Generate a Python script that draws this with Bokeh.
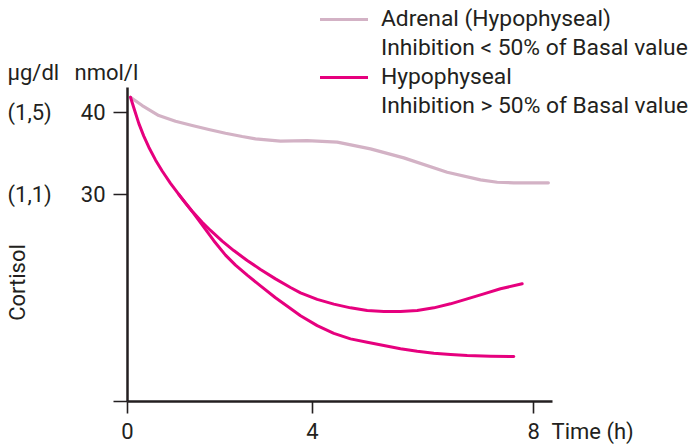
from bokeh.plotting import figure
from bokeh.models import Range1d, FixedTicker, Label, Legend, LegendItem
from bokeh.embed import file_html
from bokeh.resources import INLINE
import math

# ---- data ----
adrenal_t = [0.065, 0.318, 0.677, 1.038, 1.399, 1.758, 2.119, 2.480, 2.768, 3.308, 3.885, 4.534,
             5.254, 5.974, 6.912, 7.632, 7.994, 8.352, 9.10]
adrenal_c = [41.84, 40.83, 39.61, 38.92, 38.39, 37.90, 37.45, 37.05, 36.77, 36.48, 36.56, 36.36,
             35.55, 34.45, 32.70, 31.77, 31.48, 31.41, 31.41]

hypo_a_t = [0.065, 0.136, 0.244, 0.352, 0.461, 0.605, 0.750, 0.930, 1.109, 1.254, 1.399, 1.615,
            1.795, 2.048, 2.298, 2.588, 2.876, 3.200, 3.524, 3.741, 4.102, 4.461, 4.822, 5.183,
            5.542, 5.903, 6.264, 6.623, 6.984, 7.345, 7.704, 8.065, 8.534]
hypo_a_c = [41.84, 40.55, 38.65, 37.10, 35.75, 34.20, 32.85, 31.35, 30.00, 28.95, 27.95, 26.60,
            25.60, 24.30, 23.15, 21.95, 20.85, 19.70, 18.65, 18.00, 17.20, 16.62, 16.17, 15.84,
            15.72, 15.72, 15.84, 16.17, 16.66, 17.27, 17.88, 18.49, 19.10]

hypo_b_t = [1.109, 1.183, 1.434, 1.650, 1.866, 2.119, 2.335, 2.588, 2.876, 3.200, 3.524, 3.741,
            4.102, 4.461, 4.822, 5.183, 5.542, 5.903, 6.264, 6.623, 6.984, 7.345, 7.849, 8.353]
hypo_b_c = [30.00, 29.45, 27.65, 26.00, 24.35, 22.60, 21.38, 20.15, 18.85, 17.40, 16.10, 15.20,
            14.00, 13.05, 12.39, 11.98, 11.58, 11.18, 10.88, 10.64, 10.48, 10.36, 10.27, 10.24]

x_ticks = [0, 4, 8.78]
x_tick_labels = ["0", "4", "8"]
x_axis_end = 9.19
y_bottom = 4.75
y_axis_top = 43.0
y_ticks = [y_bottom, 30, 40]
y_tick_labels = ["", "30", "40"]
ug_labels = ["(1,5)", "(1,1)"]
ug_values = [40, 30]

legend_texts = ["Adrenal (Hypophyseal)", "Inhibition < 50% of Basal value",
                "Hypophyseal", "Inhibition > 50% of Basal value"]

# ---- style ----
DARK = "#231F20"
LIGHT = "#D3B2C5"
PINK = "#E6007E"
FONT = "Roboto"
FS = "22px"

p = figure(width=693, height=446, output_backend="svg", toolbar_location=None,
           title_location=None,
           x_range=Range1d(-2.746, 12.238), y_range=Range1d(-0.73, 53.63),
           min_border_left=0, min_border_right=0, min_border_top=0, min_border_bottom=0)
p.outline_line_color = None
p.xgrid.visible = False
p.ygrid.visible = False
p.background_fill_color = "white"
p.border_fill_color = "white"

r_light = p.line(adrenal_t, adrenal_c, line_color=LIGHT, line_width=3.2, line_join="round", line_cap="round")
r_a = p.line(hypo_a_t, hypo_a_c, line_color=PINK, line_width=3, line_join="round", line_cap="round")
r_b = p.line(hypo_b_t, hypo_b_c, line_color=PINK, line_width=3, line_join="round", line_cap="round")
r_blank1 = p.line([], [], line_alpha=0)
r_blank2 = p.line([], [], line_alpha=0)

for ax in (p.xaxis[0], p.yaxis[0]):
    ax.axis_line_color = DARK
    ax.axis_line_width = 2.5
    ax.major_tick_line_color = DARK
    ax.major_tick_line_width = 1.6
    ax.minor_tick_line_color = None
    ax.major_tick_in = 0
    ax.major_label_text_font = FONT
    ax.major_label_text_font_size = FS
    ax.major_label_text_color = DARK

p.xaxis[0].ticker = FixedTicker(ticks=x_ticks)
p.xaxis[0].major_label_overrides = {t: s for t, s in zip(x_ticks, x_tick_labels)}
p.xaxis[0].major_tick_out = 12
p.xaxis[0].major_label_standoff = 9
p.xaxis[0].bounds = (0, x_axis_end)
p.xaxis[0].fixed_location = y_bottom

p.yaxis[0].ticker = FixedTicker(ticks=y_ticks)
p.yaxis[0].major_label_overrides = {t: s for t, s in zip(y_ticks, y_tick_labels)}
p.yaxis[0].major_tick_out = 14
p.yaxis[0].major_label_standoff = 8
p.yaxis[0].bounds = (y_bottom, y_axis_top)
p.yaxis[0].fixed_location = 0

def lab(x, y, text, align="left", angle=0.0):
    p.add_layout(Label(x=x, y=y, text=text, text_font=FONT, text_font_size=FS,
                       text_color=DARK, text_align=align, text_baseline="middle",
                       angle=angle))

lab(-2.595, 44.85, "\u00b5g/dl")
lab(-1.146, 44.85, "nmol/l")
for t, v in zip(ug_labels, ug_values):
    lab(-2.595, v, t)
lab(-2.378, 19.26, "Cortisol", align="center", angle=math.pi / 2)
lab(9.168, 1.10, "Time (h)")

legend = Legend(items=[
    LegendItem(label=legend_texts[0], renderers=[r_light]),
    LegendItem(label=legend_texts[1], renderers=[r_blank1]),
    LegendItem(label=legend_texts[2], renderers=[r_a]),
    LegendItem(label=legend_texts[3], renderers=[r_blank2]),
], location=(320, 327))
legend.glyph_width = 48
legend.glyph_height = 20
legend.label_height = 20
legend.label_standoff = 13
legend.spacing = 2
legend.padding = 0
legend.margin = 0
legend.border_line_color = None
legend.background_fill_alpha = 0
legend.label_text_font = FONT
legend.label_text_font_size = "22.8px"
legend.label_text_color = DARK
p.add_layout(legend)

open("out.html", "w").write(file_html(p, INLINE))
